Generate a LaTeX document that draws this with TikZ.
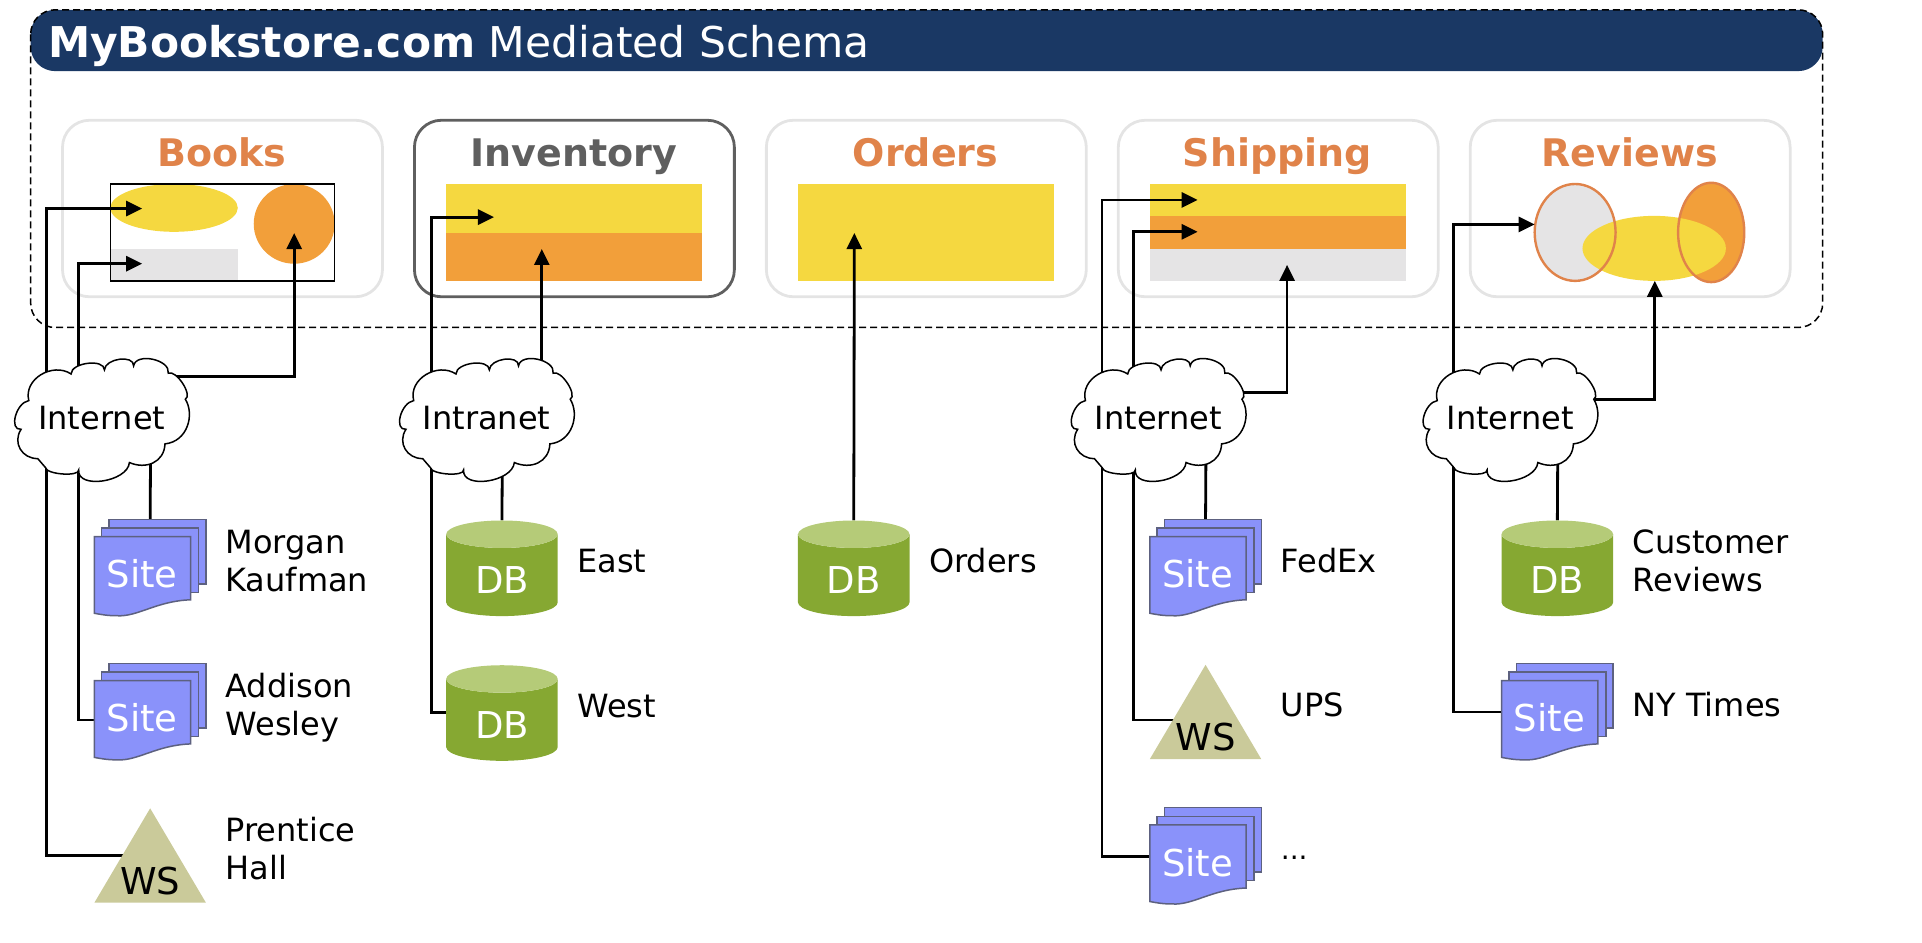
\documentclass[tikz,border=0pt]{standalone}
\usepackage{fontspec}
\setmainfont{DejaVu Sans}
\usepackage{tikz}
\usetikzlibrary{positioning, arrows.meta, backgrounds}
\usetikzlibrary{shapes.geometric}
\definecolor{bannerblue}{HTML}{1A3864}
\definecolor{titleorange}{HTML}{E0834A}
\definecolor{framegrey}{HTML}{E4E4E4}
\definecolor{darkgrey}{HTML}{5F5F5F}
\definecolor{fillyellow}{HTML}{F5D840}
\definecolor{fillorange}{HTML}{F29F3A}
\definecolor{fillgrey}{HTML}{E5E4E5}
\definecolor{sitepurple}{HTML}{8A92FA}
\definecolor{siteedge}{HTML}{5D6180}
\definecolor{dbgreen}{HTML}{86A832}
\definecolor{dbtop}{HTML}{B5CB78}
\definecolor{wskhaki}{HTML}{CACA9A}
\def\px{1.2258pt}
\tikzstyle{linkline} = [line width=2.8pt]
\tikzstyle{linkarrow} = [line width=2.8pt,-{Triangle[length=16pt,width=15pt]}]
\tikzstyle{cloudpath} = [draw=black,fill=white,line width=1.5pt]
\tikzstyle{cloudtext} = [inner sep=0pt,font=\fontsize{32}{38}\selectfont]
\tikzstyle{dbnode} = [cylinder,shape border rotate=90,aspect=0.51,cylinder uses custom fill,cylinder body fill=dbgreen,cylinder end fill=dbtop,inner sep=0pt,outer sep=0pt,minimum width=91*\px,minimum height=78*\px,text=white,text height=37pt,text depth=0pt,font=\fontsize{37}{44}\selectfont]
\tikzstyle{wsnode} = [isosceles triangle,isosceles triangle stretches,shape border rotate=90,anchor=apex,fill=wskhaki,inner sep=0pt,outer sep=0pt,minimum width=91*\px,minimum height=77*\px]
\tikzstyle{wstext} = [inner sep=0pt,font=\fontsize{37}{44}\selectfont]
\tikzstyle{sitebox} = [rectangle,inner sep=0pt,outer sep=0pt,minimum width=91*\px,minimum height=80*\px]
\tikzstyle{sitepage} = [draw=siteedge,fill=sitepurple,line width=1.5pt]
\tikzstyle{sitetext} = [text=white,inner sep=0pt,font=\fontsize{37}{44}\selectfont]
\tikzstyle{itemlabel} = [align=left,inner sep=0pt,outer sep=0pt,font=\fontsize{32}{38}\selectfont]
\tikzstyle{panel} = [rectangle,draw=framegrey,line width=2.8pt,rounded corners=22*\px,inner sep=0pt,outer sep=0pt,minimum width=261*\px,minimum height=144*\px]
\tikzstyle{paneltitle} = [anchor=base,inner sep=0pt,text=titleorange,font=\fontsize{38}{44}\selectfont\bfseries]
\newcommand{\sitestack}[2]{
	\node[sitebox] (#1) at (#2) {};
	\begin{scope}[shift={(#1.center)}]
		\draw[sitepage] (-33.5,13) rectangle (45.5,-39.5);
		\draw[sitepage] (-39.5,20) rectangle (39.5,-32.5);
		\draw[sitepage] (-45.5,-25.5) -- (33,-25.5) -- (33,26) .. controls (5,27) and (-10,40) .. (-27,39) .. controls (-35,39) and (-40,38) .. (-45.5,37) -- cycle;
		\node[sitetext] (#1Text) at (-6.5,5) {Site};
	\end{scope}
}
\newcommand{\netcloud}[3]{
	\begin{scope}[shift={(#2)}]
		\draw[cloudpath] (-65.8,9) .. controls (-76,10) and (-70,-12.7) .. (-59.5,-14.4)
			.. controls (-64,-32) and (-40,-46) .. (-25,-36.1)
			.. controls (-25,-45.5) and (2.2,-48.8) .. (2.2,-39.4)
			.. controls (2.6,-48.8) and (26.4,-52.1) .. (26,-42.7)
			.. controls (27.9,-53.9) and (56.2,-47.9) .. (54.3,-36.7)
			.. controls (60.6,-39.9) and (74.5,-18.7) .. (68.2,-15.5)
			.. controls (76,-3) and (70,19) .. (51.6,20.9)
			.. controls (51,36) and (36,42) .. (22.6,36.1)
			.. controls (21.1,52.1) and (-20.3,58.1) .. (-18.8,42.1)
			.. controls (-18.1,47.8) and (-45.2,45.9) .. (-45.9,40.2)
			-- (-52.2,32.9)
			.. controls (-65,33) and (-73,20) .. cycle;
		\node[cloudtext] (#1) at (0,0) {#3};
	\end{scope}
}
\begin{document}
\begin{tikzpicture}[x=1.2258pt,y=-1.2266pt,node distance=19.6pt]
	\useasboundingbox (0,0) rectangle (1568,768.8);
	\netcloud{cloudBooks}{83,341}{Internet}
	\netcloud{cloudInventory}{397,341}{Intranet}
	\netcloud{cloudShipping}{945,341}{Internet}
	\netcloud{cloudReviews}{1232,341}{Internet}
	\sitestack{morgan}{122.5,463}
	\sitestack{addison}{122.5,580.5}
	\node[wsnode] (prentice) at (122.5,659) {};
	\node[wstext] (prenticeText) at ([shift={(0,59)}]prentice.apex) {WS};
	\node[dbnode] (east) at (409.5,469) {DB};
	\node[dbnode] (west) at (409.5,587) {DB};
	\node[dbnode] (orders) at (696.5,469) {DB};
	\sitestack{fedex}{983.5,463}
	\node[wsnode] (ups) at (983.5,542) {};
	\node[wstext] (upsText) at ([shift={(0,59)}]ups.apex) {WS};
	\sitestack{more}{983.5,698}
	\node[dbnode] (customer) at (1270.5,469) {DB};
	\sitestack{nytimes}{1270.5,580.5}
	\node[itemlabel,right=of morgan,yshift=7pt] (morganLabel) {Morgan\\Kaufman};
	\node[itemlabel,right=of addison,yshift=4.5pt] (addisonLabel) {Addison\\Wesley};
	\node[itemlabel,anchor=west,yshift=-40.5pt] (prenticeLabel) at (addisonLabel.west |- prentice.apex) {Prentice\\Hall};
	\node[itemlabel,right=of east,yshift=14.4pt] (eastLabel) {East};
	\node[itemlabel,right=of west,yshift=14.4pt] (westLabel) {West};
	\node[itemlabel,right=of orders,yshift=14.4pt] (ordersLabel) {Orders};
	\node[itemlabel,right=of fedex,yshift=7pt] (fedexLabel) {FedEx};
	\node[itemlabel,anchor=west,yshift=-40.5pt] (upsLabel) at (fedexLabel.west |- ups.apex) {UPS};
	\node[itemlabel,right=of more,yshift=-1.6pt,font=\fontsize{28}{34}\selectfont] (moreLabel) {...};
	\node[itemlabel,right=of customer,yshift=14.4pt] (customerLabel) {Customer\\Reviews};
	\node[itemlabel,right=of nytimes,yshift=7pt] (nytimesLabel) {NY Times};
	\begin{scope}[on background layer]
		\node[rectangle,fill=bannerblue,rounded corners=20*\px,inner sep=0pt,outer sep=0pt,minimum width=1462*\px,minimum height=50*\px] (banner) at (756,33) {};
		\draw[black,line width=1.5pt,dash pattern=on 7pt off 4pt,rounded corners=20*\px] (25,8) rectangle (1487,267);
		\node[anchor=base west,inner sep=0pt,text=white,font=\fontsize{42.4}{50}\selectfont] (bannerText) at (39,47) {\textbf{MyBookstore.com} Mediated Schema};
		\node[panel] (books) at (181.5,170) {};
		\node[panel,draw=darkgrey,right=32pt of books] (inventory) {};
		\node[panel,right=32pt of inventory] (ordersPanel) {};
		\node[panel,right=32pt of ordersPanel] (shipping) {};
		\node[panel,right=32pt of shipping] (reviews) {};
		\node[paneltitle] (booksTitle) at (181,136) {Books};
		\node[paneltitle,text=darkgrey] (inventoryTitle) at (468,136) {Inventory};
		\node[paneltitle] (ordersTitle) at (755,136) {Orders};
		\node[paneltitle] (shippingTitle) at (1042,136) {Shipping};
		\node[paneltitle] (reviewsTitle) at (1329.5,136) {Reviews};
		\fill[fillyellow] (142,169.5) ellipse [x radius=52,y radius=19.5];
		\fill[fillorange] (240,182.5) ellipse [x radius=33,y radius=32.5];
		\fill[fillgrey] (90,203) rectangle (194,229);
		\draw[black,line width=1.3pt] (90,150) rectangle (273,229);
		\fill[fillyellow] (364,150) rectangle (573,190);
		\fill[fillorange] (364,190) rectangle (573,229);
		\fill[fillyellow] (651,150) rectangle (860,229);
		\fill[fillyellow] (938,150) rectangle (1147,176);
		\fill[fillorange] (938,176) rectangle (1147,203);
		\fill[fillgrey] (938,203) rectangle (1147,229);
		\fill[fillorange] (1396,189.5) ellipse [x radius=27,y radius=40.5];
		\fill[fillgrey] (1285,189.5) ellipse [x radius=33,y radius=39.5];
		\fill[fillyellow] (1349.5,202.5) ellipse [x radius=58.5,y radius=26.5];
		\draw[titleorange,line width=2.4pt] (1396,189.5) ellipse [x radius=27,y radius=40.5];
		\draw[titleorange,line width=2.4pt] (1285,189.5) ellipse [x radius=33,y radius=39.5];
		\coordinate (toBooksA) at (116,170);
		\coordinate (toBooksB) at (116,215);
		\coordinate (toBooksC) at (240,190);
		\coordinate (toInventoryA) at (403,177);
		\coordinate (toInventoryB) at (442,203);
		\coordinate (toOrders) at (697,190);
		\coordinate (toShippingA) at (977,163);
		\coordinate (toShippingB) at (977,189);
		\coordinate (toShippingC) at (1050,216);
		\coordinate (toReviewsA) at (1252,183);
		\coordinate (toReviewsB) at (1350,229);
		\draw[linkarrow] ([shift={(-45,0)}]cloudBooks.center) |- (toBooksA);
		\draw[linkarrow] ([shift={(-19,0)}]cloudBooks.center) |- (toBooksB);
		\draw[linkarrow] ([shift={(0,-34)}]cloudBooks.center) -| (toBooksC);
		\draw[linkline] ([shift={(40,0)}]cloudBooks.center) -- (morgan.north);
		\draw[linkline] ([shift={(-19,0)}]cloudBooks.center) |- ([shift={(0,6.5)}]addison.west);
		\draw[linkline] ([shift={(-45,0)}]cloudBooks.center) |- ([shift={(0,38.5)}]prentice.apex);
		\draw[linkarrow] ([shift={(-45,0)}]cloudInventory.center) |- (toInventoryA);
		\draw[linkarrow] ([shift={(45,0)}]cloudInventory.center) -- (toInventoryB);
		\draw[linkline] ([shift={(13,0)}]cloudInventory.center) -- (east.north);
		\draw[linkline] ([shift={(-45,0)}]cloudInventory.center) |- ([shift={(0,-6)}]west.west);
		\draw[linkarrow] (orders.north) -- (toOrders);
		\draw[linkarrow] ([shift={(-46,0)}]cloudShipping.center) |- (toShippingA);
		\draw[linkarrow] ([shift={(-20,0)}]cloudShipping.center) |- (toShippingB);
		\draw[linkarrow] ([shift={(0,-21)}]cloudShipping.center) -| (toShippingC);
		\draw[linkline] ([shift={(39,0)}]cloudShipping.center) -- (fedex.north);
		\draw[linkline] ([shift={(-20,0)}]cloudShipping.center) |- ([shift={(0,45)}]ups.apex);
		\draw[linkline] ([shift={(-46,0)}]cloudShipping.center) |- (more.west);
		\draw[linkarrow] ([shift={(-46,0)}]cloudReviews.center) |- (toReviewsA);
		\draw[linkarrow] ([shift={(0,-15)}]cloudReviews.center) -| (toReviewsB);
		\draw[linkline] ([shift={(39,0)}]cloudReviews.center) -- (customer.north);
		\draw[linkline] ([shift={(-46,0)}]cloudReviews.center) |- (nytimes.west);
	\end{scope}
\end{tikzpicture}
\end{document}
